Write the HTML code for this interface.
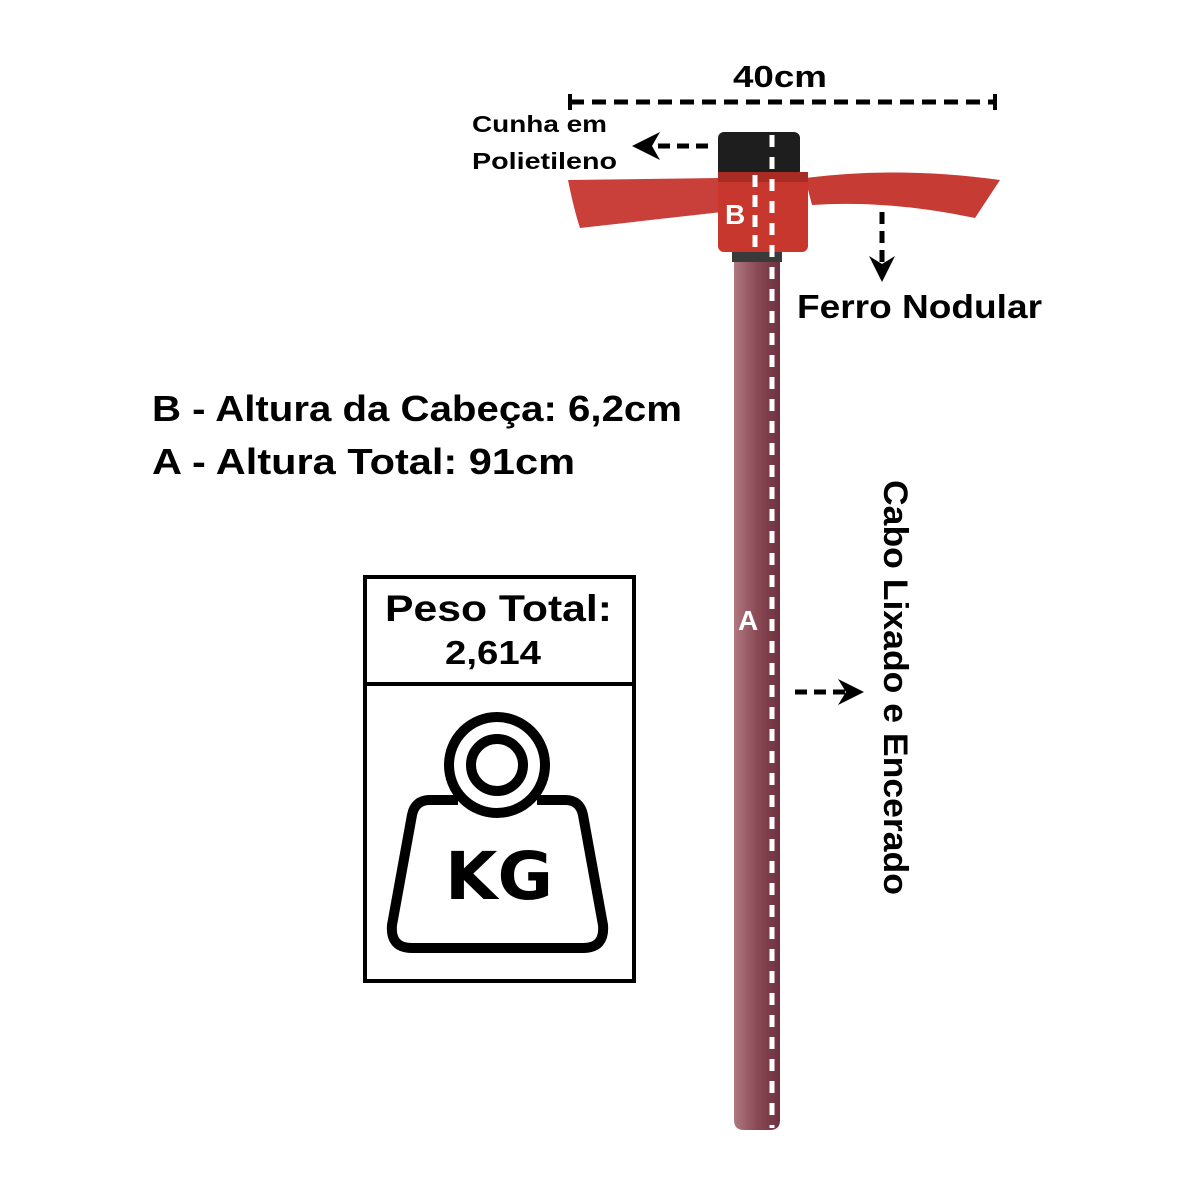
<!DOCTYPE html>
<html><head><style>body{margin:0;background:#fff}svg{display:block}</style></head><body>
<svg width="1200" height="1200" viewBox="0 0 1200 1200" xmlns="http://www.w3.org/2000/svg" font-family="Liberation Sans, sans-serif" font-weight="bold">
<defs><linearGradient id="h" x1="0" x2="1"><stop offset="0" stop-color="#b07880"/><stop offset="0.5" stop-color="#8a4a55"/><stop offset="1" stop-color="#6e3040"/></linearGradient></defs>
<path d="M734 255 H780 V1120 Q780 1130 770 1130 H744 Q734 1130 734 1120 Z" fill="url(#h)"/>
<rect x="732" y="248" width="50" height="14" fill="#3a3a3a"/>
<rect x="718" y="132" width="82" height="45" rx="6" fill="#1e1e1e"/>
<path d="M568 180 L720 178 L722 212 L580 228 Q574 210 568 180 Z" fill="#c9403a"/>
<path d="M805 178 Q900 166 1000 180 L975 218 Q890 200 812 205 Z" fill="#c63b33"/>
<rect x="718" y="172" width="90" height="80" rx="6" fill="#c7372d"/>
<rect x="718" y="172" width="90" height="10" fill="#a82c24"/>
<line x1="772" y1="135" x2="772" y2="1128" stroke="#fff" stroke-width="5" stroke-dasharray="12 10"/>
<line x1="755" y1="175" x2="755" y2="250" stroke="#fff" stroke-width="5" stroke-dasharray="12 8"/>
<text x="725" y="224" fill="#fff" font-size="28">B</text>
<text x="738" y="630" fill="#fff" font-size="28">A</text>
<text x="733" y="87" font-size="31" textLength="94" lengthAdjust="spacingAndGlyphs">40cm</text>
<line x1="570" y1="102" x2="995" y2="102" stroke="#000" stroke-width="5" stroke-dasharray="14 8"/>
<line x1="570" y1="94" x2="570" y2="110" stroke="#000" stroke-width="4"/>
<line x1="995" y1="94" x2="995" y2="110" stroke="#000" stroke-width="4"/>
<text x="472" y="132" font-size="23" textLength="135" lengthAdjust="spacingAndGlyphs">Cunha em</text>
<text x="472" y="169" font-size="23" textLength="145" lengthAdjust="spacingAndGlyphs">Polietileno</text>
<line x1="708" y1="146" x2="650" y2="146" stroke="#000" stroke-width="5" stroke-dasharray="12 7"/>
<path d="M632 146 L660 132 L652 146 L660 160 Z" fill="#000"/>
<line x1="882" y1="212" x2="882" y2="262" stroke="#000" stroke-width="5" stroke-dasharray="12 7"/>
<path d="M882 282 L869 256 L882 264 L895 256 Z" fill="#000"/>
<text x="797" y="318" font-size="33" textLength="245" lengthAdjust="spacingAndGlyphs">Ferro Nodular</text>
<text x="152" y="421" font-size="36" textLength="530" lengthAdjust="spacingAndGlyphs">B - Altura da Cabeça: 6,2cm</text>
<text x="152" y="474" font-size="36" textLength="423" lengthAdjust="spacingAndGlyphs">A - Altura Total: 91cm</text>
<rect x="365" y="577" width="269" height="404" fill="none" stroke="#000" stroke-width="4"/>
<line x1="365" y1="684" x2="634" y2="684" stroke="#000" stroke-width="4"/>
<text x="385" y="621" font-size="37" textLength="227" lengthAdjust="spacingAndGlyphs">Peso Total:</text>
<text x="445" y="664" font-size="33" textLength="96" lengthAdjust="spacingAndGlyphs">2,614</text>
<g fill="none" stroke="#000" stroke-width="10" stroke-linejoin="round">
<circle cx="497" cy="765" r="48"/>
<circle cx="497" cy="765" r="26"/>
<path d="M458 800 H430 Q415 800 412 815 L392 925 Q390 948 412 948 H583 Q605 948 603 925 L583 815 Q580 800 565 800 H537"/>
</g>
<text x="445" y="899" font-size="66" font-weight="bold" textLength="108" lengthAdjust="spacingAndGlyphs" font-family="DejaVu Sans, sans-serif">KG</text>
<line x1="795" y1="692" x2="845" y2="692" stroke="#000" stroke-width="5" stroke-dasharray="12 7"/>
<path d="M864 692 L838 679 L846 692 L838 705 Z" fill="#000"/>
<text transform="translate(884,480) rotate(90)" font-size="34" textLength="415" lengthAdjust="spacingAndGlyphs">Cabo Lixado e Encerado</text>
</svg>
</body></html>
